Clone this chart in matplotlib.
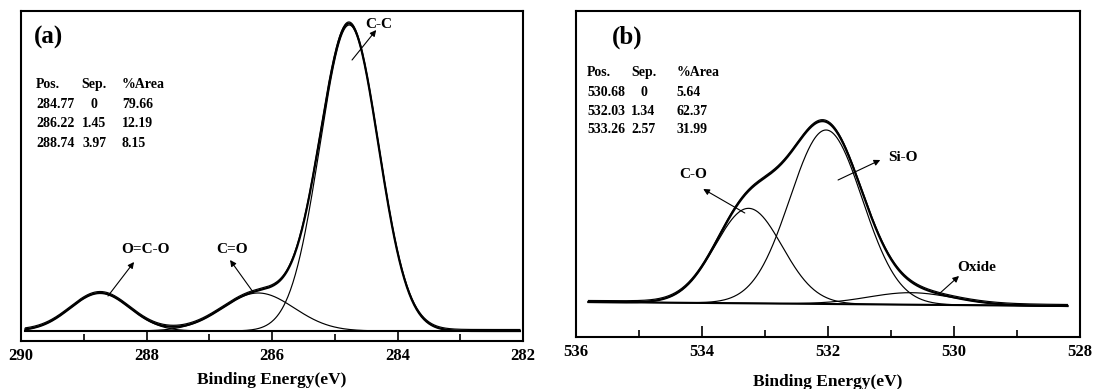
import numpy as np
import matplotlib.pyplot as plt
from matplotlib.ticker import MultipleLocator

plt.rcParams['font.family'] = ['Liberation Serif', 'DejaVu Serif']
plt.rcParams['font.weight'] = 'bold'

# panel (a): C 1s
c_pos = [284.77, 286.22, 288.74]
c_sep = ['0', '1.45', '3.97']
c_area = ['79.66', '12.19', '8.15']
c_fwhm = [1.10, 1.35, 1.12]
c_height = [306, 38, 38]
c_names = ['C-C', 'C=O', 'O=C-O']
c_bg = [0.0, 0.0]          # background at left / right end

# panel (b): O 1s
o_pos = [530.68, 532.03, 533.26]
o_sep = ['0', '1.34', '2.57']
o_area = ['5.64', '62.37', '31.99']
o_fwhm = [1.60, 1.35, 1.25]
o_height = [12, 174, 95]
o_names = ['Oxide', 'Si-O', 'C-O']
o_bg = [0.0, -4.0]


def gauss(x, pos, fwhm, h):
    return h * np.exp(-4 * np.log(2) * ((x - pos) / fwhm) ** 2)


def draw_panel(ax, e_range, xlim, ylim, pos, fwhm, height, bg):
    x = np.linspace(e_range[0], e_range[1], 600)
    base = np.interp(x, [e_range[1], e_range[0]], [bg[1], bg[0]])
    comps = [gauss(x, p, w, h) for p, w, h in zip(pos, fwhm, height)]
    env = base + np.sum(comps, axis=0)
    ax.plot(x, base, color='black', lw=1.5)
    for c in comps:
        ax.plot(x, base + c, color='black', lw=0.85)
    ax.plot(x, env, color='black', lw=1.6)
    ax.plot(x, env + 1.5, color='black', lw=0.85)
    ax.set_xlim(*xlim)
    ax.set_ylim(*ylim)
    ax.xaxis.set_major_locator(MultipleLocator(2))
    ax.xaxis.set_minor_locator(MultipleLocator(1))
    ax.tick_params(axis='x', which='major', direction='in', length=8, width=1.2,
                   labelsize=12, pad=5, top=False)
    ax.tick_params(axis='x', which='minor', direction='in', length=5, width=1.2, top=False)
    ax.set_yticks([])
    for s in ax.spines.values():
        s.set_linewidth(1.5)


def table(ax, x0, xsep, xarea, ys, pos, sep, area):
    kw = dict(transform=ax.transAxes, fontsize=10, fontweight='bold', va='center')
    ax.text(x0, ys[0], 'Pos.', ha='left', **kw)
    ax.text(xsep, ys[0], 'Sep.', ha='center', **kw)
    ax.text(xarea, ys[0], '%Area', ha='left', **kw)
    for i in range(3):
        ax.text(x0, ys[i + 1], f'{pos[i]:.2f}', ha='left', **kw)
        ax.text(xsep, ys[i + 1], sep[i], ha='center', **kw)
        ax.text(xarea, ys[i + 1], area[i], ha='left', **kw)


arrow = dict(arrowstyle='-|>', lw=0.8, color='black', mutation_scale=9, shrinkA=0, shrinkB=0)

fig = plt.figure(figsize=(10.96, 3.89), dpi=100)
ax1 = fig.add_axes([0.0192, 0.1234, 0.458, 0.8483])
ax2 = fig.add_axes([0.5255, 0.1337, 0.4599, 0.838])

draw_panel(ax1, (289.93, 282.05), (290, 282), (-10, 320), c_pos, c_fwhm, c_height, c_bg)
draw_panel(ax2, (535.8, 528.2), (536, 528), (-35, 291), o_pos, o_fwhm, o_height, o_bg)

for ax in (ax1, ax2):
    ax.set_xlabel('Binding Energy(eV)', fontsize=12.5, fontweight='bold')
ax1.xaxis.labelpad = 6
ax2.xaxis.labelpad = 10

ax1.text(0.054, 0.921, '(a)', transform=ax1.transAxes, fontsize=18,
         fontweight='bold', ha='center', va='center')
ax2.text(0.101, 0.92, '(b)', transform=ax2.transAxes, fontsize=18,
         fontweight='bold', ha='center', va='center')

table(ax1, 0.030, 0.146, 0.201, [0.776, 0.718, 0.658, 0.597], c_pos, c_sep, c_area)
table(ax2, 0.022, 0.134, 0.200, [0.810, 0.751, 0.693, 0.635], o_pos, o_sep, o_area)

# peak labels with arrows
lab = dict(fontsize=11, fontweight='bold', ha='center', va='center')
ax1.annotate('', xy=(284.34, 301), xytext=(284.725, 271), arrowprops=arrow)
ax1.text(284.30, 307, c_names[0], **lab)
ax1.annotate('', xy=(286.669, 71), xytext=(286.303, 39), arrowprops=arrow)
ax1.text(286.637, 82, c_names[1], **lab)
ax1.annotate('', xy=(288.199, 69), xytext=(288.614, 35), arrowprops=arrow)
ax1.text(288.024, 82, c_names[2], **lab)

ax2.annotate('', xy=(529.92, 26), xytext=(530.22, 9), arrowprops=arrow)
ax2.text(529.635, 34, o_names[0], **lab)
ax2.annotate('', xy=(531.17, 142), xytext=(531.84, 122), arrowprops=arrow)
ax2.text(530.81, 145, o_names[1], **lab)
ax2.annotate('', xy=(533.98, 113), xytext=(533.32, 89), arrowprops=arrow)
ax2.text(534.14, 127, o_names[2], **lab)

fig.savefig('out.png', dpi=100)
